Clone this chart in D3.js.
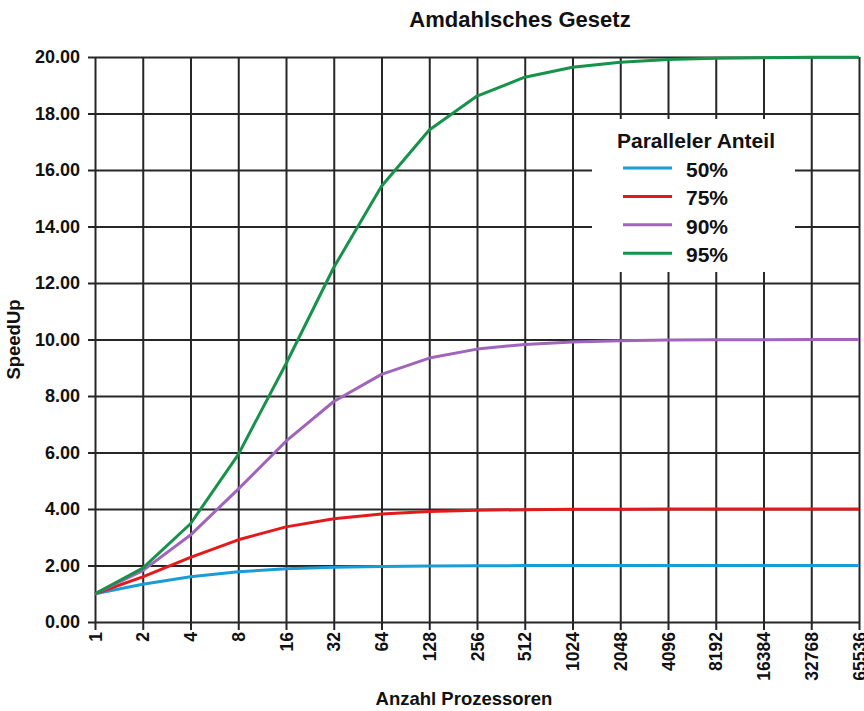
<!DOCTYPE html>
<html>
<head>
<meta charset="utf-8">
<script src="https://cdn.jsdelivr.net/npm/d3@7"></script>
<style>
  html, body { margin: 0; padding: 0; background: #fff; }
  svg { display: block; font-family: "Liberation Sans", Arial, sans-serif; font-weight: bold; }
</style>
</head>
<body>
<svg id="chart" width="864" height="711"></svg>
<script>
const processors = ["1","2","4","8","16","32","64","128","256","512","1024","2048","4096","8192","16384","32768","65536"];
const yTicks = [0,2,4,6,8,10,12,14,16,18,20];
const seriesNames = ["50%","75%","90%","95%"];
const seriesColors = ["#1a9cd6","#e31a1c","#a064bb","#16924a"];
const s50 = [1.000,1.333,1.600,1.778,1.882,1.939,1.969,1.984,1.992,1.996,1.998,1.999,2.000,2.000,2.000,2.000,2.000];
const s75 = [1.000,1.600,2.286,2.909,3.368,3.657,3.821,3.908,3.954,3.977,3.988,3.994,3.997,3.999,3.999,4.000,4.000];
const s90 = [1.000,1.818,3.077,4.706,6.400,7.805,8.767,9.343,9.660,9.827,9.913,9.956,9.978,9.989,9.995,9.997,9.999];
const s95 = [1.000,1.905,3.478,5.926,9.143,12.549,15.422,17.415,18.618,19.284,19.637,19.817,19.908,19.954,19.977,19.988,19.994];
const seriesValues = [s50, s75, s90, s95];

(function () {
const svg = d3.select("#chart");
const mLeft = 95, mRight = 859, mTop = 57, mBottom = 622;

const x = d3.scalePoint().domain(processors).range([mLeft, mRight]);
const y = d3.scaleLinear().domain([0, 20]).range([mBottom, mTop]);

const gridColor = "#262626";
const ff = "Liberation Sans, Arial, sans-serif";

// Y grid + ticks + labels
const yAxis = svg.append("g")
  .attr("transform", `translate(${mRight},0)`)
  .call(d3.axisLeft(y).tickValues(yTicks).tickSize(mRight - mLeft + 7).tickPadding(8).tickFormat(d3.format(".2f")));
yAxis.select(".domain").remove();
yAxis.selectAll(".tick line").attr("stroke", gridColor).attr("stroke-width", 2);
yAxis.selectAll(".tick text").attr("font-size", 18).attr("font-weight", "bold").attr("fill", "#111")
  .attr("font-family", ff);

// X grid + ticks + labels
const xAxis = svg.append("g")
  .attr("transform", `translate(0,${mTop})`)
  .call(d3.axisBottom(x).tickSize(mBottom - mTop + 8).tickPadding(0));
xAxis.select(".domain").remove();
xAxis.selectAll(".tick line").attr("stroke", gridColor).attr("stroke-width", 2);
xAxis.selectAll(".tick text")
  .attr("font-size", 17.5).attr("font-weight", "bold").attr("fill", "#111")
  .attr("font-family", ff)
  .attr("text-anchor", "end")
  .attr("transform", `translate(0,${mBottom - mTop + 10}) rotate(-90)`)
  .attr("x", 0).attr("y", 0).attr("dy", "0.35em");

// Lines
const line = d3.line()
  .x((d, i) => x(processors[i]))
  .y(d => y(d));

svg.append("g").selectAll("path")
  .data(seriesValues)
  .join("path")
  .attr("d", d => line(d))
  .attr("fill", "none")
  .attr("stroke", (d, i) => seriesColors[i])
  .attr("stroke-width", 3)
  .attr("stroke-linejoin", "round");

// Legend
const lg = svg.append("g");
lg.append("rect").attr("x", 592).attr("y", 119).attr("width", 203).attr("height", 153).attr("fill", "#fff");
lg.append("text").attr("x", 617).attr("y", 148).attr("font-size", 21).attr("fill", "#111").text("Paralleler Anteil");
seriesNames.forEach((name, i) => {
  const yy = 168 + i * 28.4;
  lg.append("line").attr("x1", 623).attr("x2", 672).attr("y1", yy).attr("y2", yy)
    .attr("stroke", seriesColors[i]).attr("stroke-width", 3);
  lg.append("text").attr("x", 686).attr("y", yy + 9).attr("font-size", 21).attr("fill", "#111").text(name);
});

// Titles
svg.append("text").attr("x", 520).attr("y", 27).attr("text-anchor", "middle")
  .attr("font-size", 22).attr("fill", "#111").text("Amdahlsches Gesetz");
svg.append("text").attr("x", 464).attr("y", 705).attr("text-anchor", "middle")
  .attr("font-size", 18.5).attr("fill", "#111").text("Anzahl Prozessoren");
svg.append("text").attr("transform", `translate(20,${(mTop + mBottom) / 2}) rotate(-90)`)
  .attr("text-anchor", "middle").attr("font-size", 18.5).attr("fill", "#111").text("SpeedUp");
})();
</script>
</body>
</html>
